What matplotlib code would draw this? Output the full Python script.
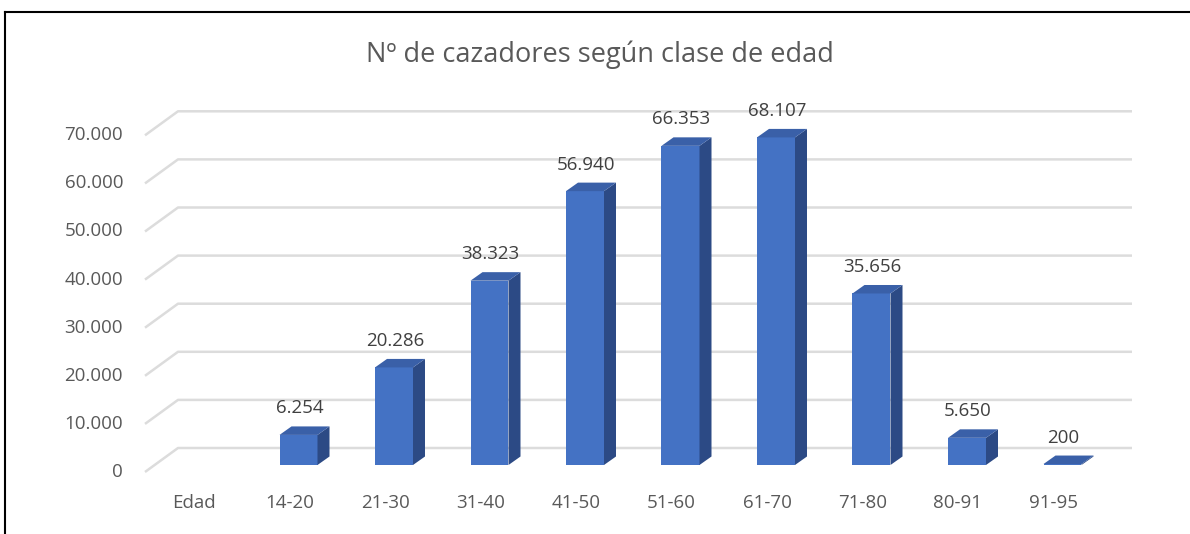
import matplotlib.pyplot as plt
from matplotlib.patches import Polygon
from matplotlib.lines import Line2D

plt.rcParams['font.family'] = ['Open Sans', 'DejaVu Sans']

categories = ['Edad', '14-20', '21-30', '31-40', '41-50', '51-60', '61-70', '71-80', '80-91', '91-95']
values = [None, 6254, 20286, 38323, 56940, 66353, 68107, 35656, 5650, 200]
labels = ['', '6.254', '20.286', '38.323', '56.940', '66.353', '68.107', '35.656', '5.650', '200']
ticks = [0, 10000, 20000, 30000, 40000, 50000, 60000, 70000]
tick_labels = ['0', '10.000', '20.000', '30.000', '40.000', '50.000', '60.000', '70.000']
title = 'Nº de cazadores según clase de edad'

W, H = 1190, 534
fig = plt.figure(figsize=(W / 100, H / 100), dpi=100)
ax = fig.add_axes([0, 0, 1, 1])

# pixel <-> data scale: one category = 95.5 px, 10000 = 48.1 px
px_x = 1 / 95.5
px_y = 10000 / 48.1
x0_px, y0_px = 203, 465
ax.set_xlim(-x0_px * px_x, (W - x0_px) * px_x)
ax.set_ylim(-(H - y0_px) * px_y, y0_px * px_y)
ax.axis('off')

front_c = '#4472C4'
side_c = '#2C4A85'
top_c = '#3A60A8'
grid_c = '#DCDCDC'
text_c = '#595959'

# gridlines: back wall + diagonal floor/side
back_dy = 17 * px_y
front_dy = -7 * px_y
left_back = -25 * px_x
left_front = -58 * px_x
right_back = 929 * px_x
for t, tl in zip(ticks, tick_labels):
    ax.plot([left_front, left_back, right_back], [t + front_dy, t + back_dy, t + back_dy],
            color=grid_c, lw=1.8, solid_capstyle='butt', zorder=1)
    ax.text(-80 * px_x, t + front_dy, tl, ha='right', va='center', fontsize=13.5, color=text_c)

# bars with pseudo-3D
bw = 38 * px_x
dx = 12 * px_x
dy = 8.5 * px_y
for i, (v, lab) in enumerate(zip(values, labels)):
    if v is not None:
        l, r = i - bw / 2, i + bw / 2
        ax.add_patch(Polygon([(l, 0), (r, 0), (r, v), (l, v)], closed=True,
                             facecolor=front_c, edgecolor='none', zorder=3))
        ax.add_patch(Polygon([(r, 0), (r + dx, dy), (r + dx, v + dy), (r, v)], closed=True,
                             facecolor=side_c, edgecolor='none', zorder=3))
        ax.add_patch(Polygon([(l, v), (r, v), (r + dx, v + dy), (l + dx, v + dy)], closed=True,
                             facecolor=top_c, edgecolor='none', zorder=3))
        ax.text(i + 1 * px_x, v + dy + 18 * px_y, lab, ha='center', va='center',
                fontsize=13.5, color='#404040', zorder=4)
    ax.text(i - 9 * px_x, -38 * px_y, categories[i], ha='center', va='center',
            fontsize=13.5, color=text_c)

ax.text(600 * px_x - x0_px * px_x, (y0_px - 55) * px_y, title, ha='center', va='center',
        fontsize=19.5, color=text_c)

# chart frame (top and left edges visible)
fig.add_artist(Line2D([5 / W, 5 / W], [0, 1 - 12 / H], color='black', lw=1.5, transform=fig.transFigure))
fig.add_artist(Line2D([5 / W, 1], [1 - 12 / H, 1 - 12 / H], color='black', lw=1.5, transform=fig.transFigure))

fig.savefig('out.png', dpi=100, facecolor='white')
